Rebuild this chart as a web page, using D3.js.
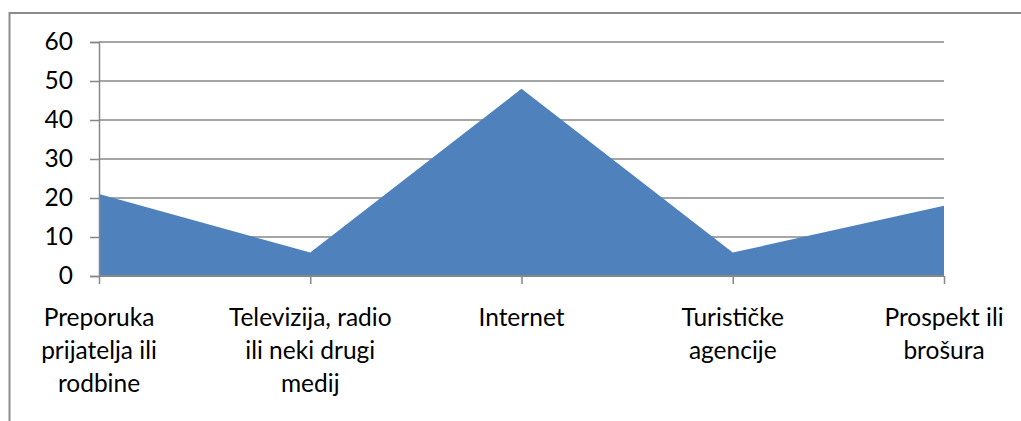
<!DOCTYPE html>
<html>
<head>
<meta charset="utf-8">
<script src="https://cdn.jsdelivr.net/npm/d3@7"></script>
<style>
  html, body { margin: 0; padding: 0; background: #fff; }
  svg { display: block; }
  text { font-family: Lato, "Open Sans", sans-serif; fill: #000; }
</style>
</head>
<body>
<svg id="chart" width="1021" height="421"></svg>
<script>
const categories = [
  "Preporuka prijatelja ili rodbine",
  "Televizija, radio ili neki drugi medij",
  "Internet",
  "Turističke agencije",
  "Prospekt ili brošura"
];
const values = [21, 6, 48, 6, 18];
const yTicks = [0, 10, 20, 30, 40, 50, 60];

const svg = d3.select("#chart");
const plot = { left: 99, right: 944, top: 42, bottom: 276 };
const fontSize = 24.5;
const gray = "#878787";

// outer chart border (right/bottom beyond the window)
svg.append("rect")
  .attr("x", 9.5).attr("y", 13)
  .attr("width", 1100).attr("height", 500)
  .attr("fill", "none").attr("stroke", "#8c8c8c").attr("stroke-width", 2);

const x = d3.scalePoint().domain(categories).range([plot.left, plot.right]);
const y = d3.scaleLinear().domain([0, 60]).range([plot.bottom, plot.top]);

// gridlines
svg.append("g")
  .selectAll("line").data(yTicks.filter(d => d > 0)).join("line")
  .attr("x1", plot.left).attr("x2", plot.right)
  .attr("y1", d => y(d)).attr("y2", d => y(d))
  .attr("stroke", gray).attr("stroke-width", 1.5);

// area
const area = d3.area()
  .x(d => x(d.c))
  .y0(y(0))
  .y1(d => y(d.v));
svg.append("path")
  .datum(categories.map((c, i) => ({ c, v: values[i] })))
  .attr("d", area)
  .attr("fill", "#4f81bd");

// y axis
const yAxis = d3.axisLeft(y).tickValues(yTicks).tickSize(9).tickPadding(17);
const gy = svg.append("g").attr("transform", `translate(${plot.left},0)`).call(yAxis);
gy.select(".domain").attr("stroke", gray).attr("stroke-width", 1.5);
gy.selectAll(".tick line").attr("stroke", gray).attr("stroke-width", 1.5);
gy.selectAll(".tick text")
  .attr("font-family", "Lato, 'Open Sans', sans-serif")
  .attr("font-size", fontSize).attr("fill", "#000");

// x axis
const xAxis = d3.axisBottom(x).tickSize(8).tickFormat(() => "");
const gx = svg.append("g").attr("transform", `translate(0,${plot.bottom})`).call(xAxis);
gx.select(".domain").attr("stroke", gray).attr("stroke-width", 2)
  .attr("d", `M${plot.left},0H${plot.right}`);
gx.selectAll(".tick line").attr("stroke", gray).attr("stroke-width", 1.5);

// wrapped category labels
const maxW = 180;
const lineH = 33;
const firstBaseline = 326;
const labels = svg.append("g");
categories.forEach(c => {
  const t = labels.append("text")
    .attr("x", x(c)).attr("y", firstBaseline)
    .attr("text-anchor", "middle")
    .attr("font-size", fontSize);
  const words = c.split(" ");
  let line = [];
  let lineNo = 0;
  let ts = t.append("tspan").attr("x", x(c)).attr("y", firstBaseline);
  words.forEach(w => {
    line.push(w);
    ts.text(line.join(" "));
    if (ts.node().getComputedTextLength() > maxW && line.length > 1) {
      line.pop();
      ts.text(line.join(" "));
      line = [w];
      lineNo++;
      ts = t.append("tspan").attr("x", x(c)).attr("y", firstBaseline + lineNo * lineH).text(w);
    }
  });
});
</script>
</body>
</html>
